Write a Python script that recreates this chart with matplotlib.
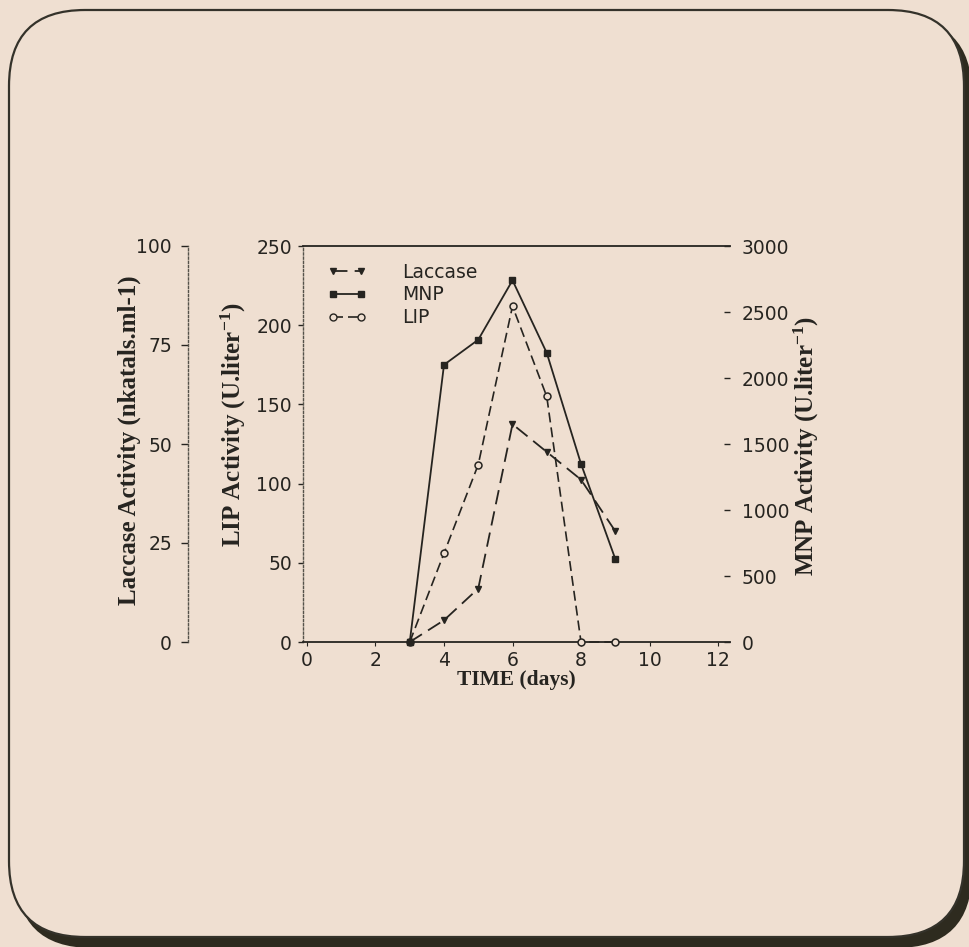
#!/usr/bin/env python3

import matplotlib
matplotlib.use('Agg')
import matplotlib.pyplot as plt
from matplotlib.patches import FancyBboxPatch
from matplotlib.lines import Line2D

# Enzyme activity over time
days = [3, 4, 5, 6, 7, 8, 9]
laccase = [0, 5.5, 13.5, 55, 48, 41, 28]          # nkatals/ml
mnp = [0, 2100, 2290, 2740, 2190, 1350, 630]      # U/liter
lip = [0, 56, 112, 212, 155, 0, 0]                # U/liter

x_ticks = [0, 2, 4, 6, 8, 10, 12]
lac_ticks = [0, 25, 50, 75, 100]
lip_ticks = [0, 50, 100, 150, 200, 250]
mnp_ticks = [0, 500, 1000, 1500, 2000, 2500, 3000]

BG = '#efdfd1'
INK = '#262420'

plt.rcParams['font.family'] = ['DejaVu Sans']
plt.rcParams['mathtext.fontset'] = 'custom'
plt.rcParams['mathtext.rm'] = 'Liberation Serif:bold'
plt.rcParams['mathtext.bf'] = 'Liberation Serif:bold'
plt.rcParams['mathtext.it'] = 'Liberation Serif:bold'
plt.rcParams['mathtext.default'] = 'rm'

W, H = 970, 947
fig = plt.figure(figsize=(W / 100, H / 100), dpi=100)
fig.patch.set_facecolor(BG)

# Rounded card with drop shadow, drawn in pixel coordinates
bg = fig.add_axes([0, 0, 1, 1])
bg.set_xlim(0, W)
bg.set_ylim(H, 0)
bg.axis('off')
bg.add_patch(FancyBboxPatch((16, 18), 956, 930, boxstyle='round,pad=0,rounding_size=76',
                            facecolor='#2e2b1f', edgecolor='none'))
bg.add_patch(FancyBboxPatch((9, 10), 955, 927, boxstyle='round,pad=0,rounding_size=76',
                            facecolor=BG, edgecolor='#34322a', linewidth=1.6))

# Main axes (LIP) placed to match the scan
left, right, top, bottom = 303, 730, 246, 642
ax = fig.add_axes([left / W, (H - bottom) / H, (right - left) / W, (bottom - top) / H])
ax.set_facecolor('none')
ax.set_xlim(-4 / 34.25, (right - 307) / 34.25)
ax.set_ylim(0, 250)

tick_font = 13.5
label_font = dict(family='Liberation Serif', weight='bold', size=18, color=INK)

for side in ['top', 'bottom']:
    ax.spines[side].set_color(INK)
    ax.spines[side].set_linewidth(1.3)
ax.spines['right'].set_visible(False)
ax.spines['left'].set_linestyle((0, (1.5, 1.5)))
ax.spines['left'].set_linewidth(1.0)
ax.spines['left'].set_color('#55524a')

ax.set_xticks(x_ticks)
ax.set_yticks(lip_ticks)
ax.tick_params(axis='x', direction='out', length=3, width=0.8, pad=3.5,
               labelsize=tick_font, colors=INK)
ax.tick_params(axis='y', direction='out', length=3.6, width=1.0, pad=4.3,
               labelsize=tick_font, colors=INK)

# MNP axis on the right
ax_mnp = ax.twinx()
ax_mnp.set_ylim(0, 3000)
ax_mnp.set_yticks(mnp_ticks)
for s in ax_mnp.spines.values():
    s.set_visible(False)
ax_mnp.tick_params(axis='y', direction='in', length=4.3, width=1.0, pad=8.6,
                   labelsize=tick_font, colors=INK)

# Laccase axis, offset to the far left
ax_lac = ax.twinx()
ax_lac.set_ylim(0, 100)
ax_lac.set_yticks(lac_ticks)
for side in ['top', 'bottom', 'right']:
    ax_lac.spines[side].set_visible(False)
ax_lac.spines['left'].set_position(('axes', (188 - left) / (right - left)))
ax_lac.spines['left'].set_visible(True)
ax_lac.spines['left'].set_linestyle((0, (1.5, 1.5)))
ax_lac.spines['left'].set_linewidth(1.0)
ax_lac.spines['left'].set_color('#55524a')
ax_lac.yaxis.set_ticks_position('left')
ax_lac.tick_params(axis='y', direction='out', length=5, width=1.0, pad=6.5,
                   labelsize=tick_font, colors=INK)

# Series
ax_lac.plot(days, laccase, color=INK, linewidth=1.3, dashes=(8, 4),
            marker='v', markersize=4.8, markerfacecolor=INK, markeredgecolor=INK, clip_on=False)
ax_mnp.plot(days, mnp, color=INK, linewidth=1.3, linestyle='-',
            marker='s', markersize=4.6, markerfacecolor=INK, markeredgecolor=INK, clip_on=False)
ax.plot(days, lip, color=INK, linewidth=1.2, dashes=(6, 3),
        marker='o', markersize=5, markerfacecolor=BG, markeredgecolor=INK,
        markeredgewidth=1.1, clip_on=False, zorder=5)

# Axis labels
ax.text(0.5, -0.095, 'TIME (days)', transform=ax.transAxes, ha='center', va='center',
        family='Liberation Serif', weight='bold', size=15.5, color=INK)
ax.text((129 - left) / (right - left), (bottom - 440) / (bottom - top),
        'Laccase Activity (nkatals.ml-1)', transform=ax.transAxes,
        ha='center', va='center', rotation=90, **label_font)
ax.text((233 - left) / (right - left), (bottom - 425) / (bottom - top),
        'LIP Activity (U.liter$^{-1}$)', transform=ax.transAxes,
        ha='center', va='center', rotation=90, **label_font)
ax.text((806 - left) / (right - left), (bottom - 446) / (bottom - top),
        'MNP Activity (U.liter$^{-1}$)', transform=ax.transAxes,
        ha='center', va='center', rotation=90, **label_font)

# Legend
handles = [
    Line2D([], [], color=INK, linewidth=1.3, dashes=(8, 4), marker='v', markersize=4.8,
           markerfacecolor=INK, markeredgecolor=INK),
    Line2D([], [], color=INK, linewidth=1.3, marker='s', markersize=4.6,
           markerfacecolor=INK, markeredgecolor=INK),
    Line2D([], [], color=INK, linewidth=1.2, dashes=(6, 3), marker='o', markersize=5,
           markerfacecolor=BG, markeredgecolor=INK),
]
leg = ax_lac.legend(handles, ['Laccase', 'MNP', 'LIP'], loc='upper left',
                    bbox_to_anchor=(24 / (right - left), 0.958), frameon=False,
                    fontsize=tick_font, numpoints=2, handlelength=2.1,
                    handletextpad=1.9, labelspacing=0.2, borderpad=0, borderaxespad=0)
for t in leg.get_texts():
    t.set_color(INK)

plt.savefig('out.png', dpi=100, facecolor=BG)
